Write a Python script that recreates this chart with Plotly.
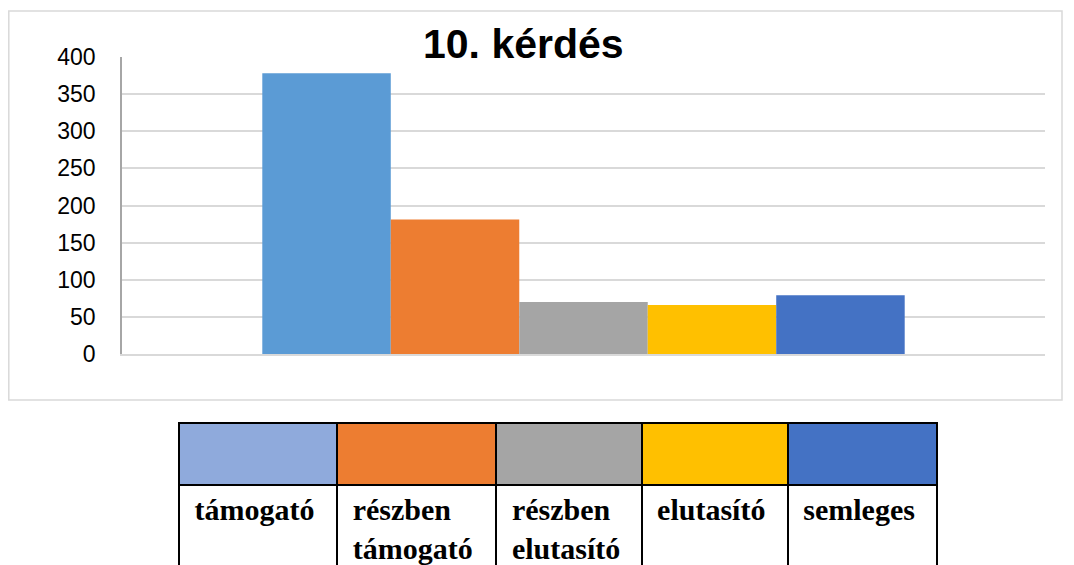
import plotly.graph_objects as go

categories = ["támogató", "részben támogató", "részben elutasító", "elutasító", "semleges"]
values = [378, 181, 70, 66, 79]
bar_colors = ["#5B9BD5", "#ED7D31", "#A5A5A5", "#FFC000", "#4472C4"]
table_colors = ["#8FAADC", "#ED7D31", "#A5A5A5", "#FFC000", "#4472C4"]
table_lines = [["támogató"], ["részben", "támogató"], ["részben", "elutasító"], ["elutasító"], ["semleges"]]
y_ticks = [0, 50, 100, 150, 200, 250, 300, 350, 400]
title_text = "10. kérdés"

# page body has an 8px margin; figure sized to fit exactly inside the window
OFF = 8
W, H = 1074 - OFF, 565 - OFF


def fx(p):
    return (p - OFF) / W


def fy(p):
    return 1 - (p - OFF) / H


fig = go.Figure()
for name, v, c in zip(categories, values, bar_colors):
    fig.add_trace(go.Bar(x=[""], y=[v], name=name, marker=dict(color=c, line=dict(width=0)),
                         xaxis="x", yaxis="y", showlegend=False))

cell_text = [["<br>".join("&nbsp;<b>" + s + "</b>" for s in lines)] for lines in table_lines]

fig.add_trace(go.Table(
    domain=dict(x=[fx(179), fx(937)], y=[0, fy(423)]),
    columnwidth=[158, 159, 145, 146, 149],
    header=dict(values=[""] * len(categories), fill=dict(color=table_colors),
                line=dict(color="black", width=2), height=62),
    cells=dict(values=cell_text,
               fill=dict(color="white"), line=dict(color="black", width=2),
               align="left", height=80,
               font=dict(family="Liberation Serif", size=30, color="black")),
))

fig.update_layout(
    width=W, height=H,
    margin=dict(l=0, r=0, t=0, b=0, autoexpand=False),
    paper_bgcolor="white", plot_bgcolor="white",
    barmode="group", bargap=0.304, bargroupgap=0,
    xaxis=dict(domain=[fx(122), fx(1045)], showticklabels=False, ticks="",
               showline=True, linecolor="#d9d9d9", linewidth=1.5, showgrid=False,
               zeroline=False, fixedrange=True, automargin=False),
    yaxis=dict(domain=[fy(354), fy(57)], range=[0, 400], tickvals=y_ticks,
               showgrid=True, gridcolor="#d9d9d9", gridwidth=1.5,
               showline=True, linecolor="#a6a6a6", linewidth=1.5, zeroline=False,
               ticks="", ticklabelstandoff=20, automargin=False,
               tickfont=dict(family="Liberation Sans", size=23, color="black")),
    shapes=[dict(type="rect", xref="paper", yref="paper",
                 x0=fx(8.8), x1=fx(1062), y0=fy(400), y1=fy(11),
                 line=dict(color="#d9d9d9", width=1.5), fillcolor="rgba(0,0,0,0)",
                 layer="below")],
    annotations=[dict(text="<b>" + title_text + "</b>", xref="paper", yref="paper",
                      x=fx(523.5), y=fy(44), xanchor="center", yanchor="middle",
                      showarrow=False,
                      font=dict(family="Liberation Sans", size=41, color="black"))],
)

fig.write_html("out.html")
